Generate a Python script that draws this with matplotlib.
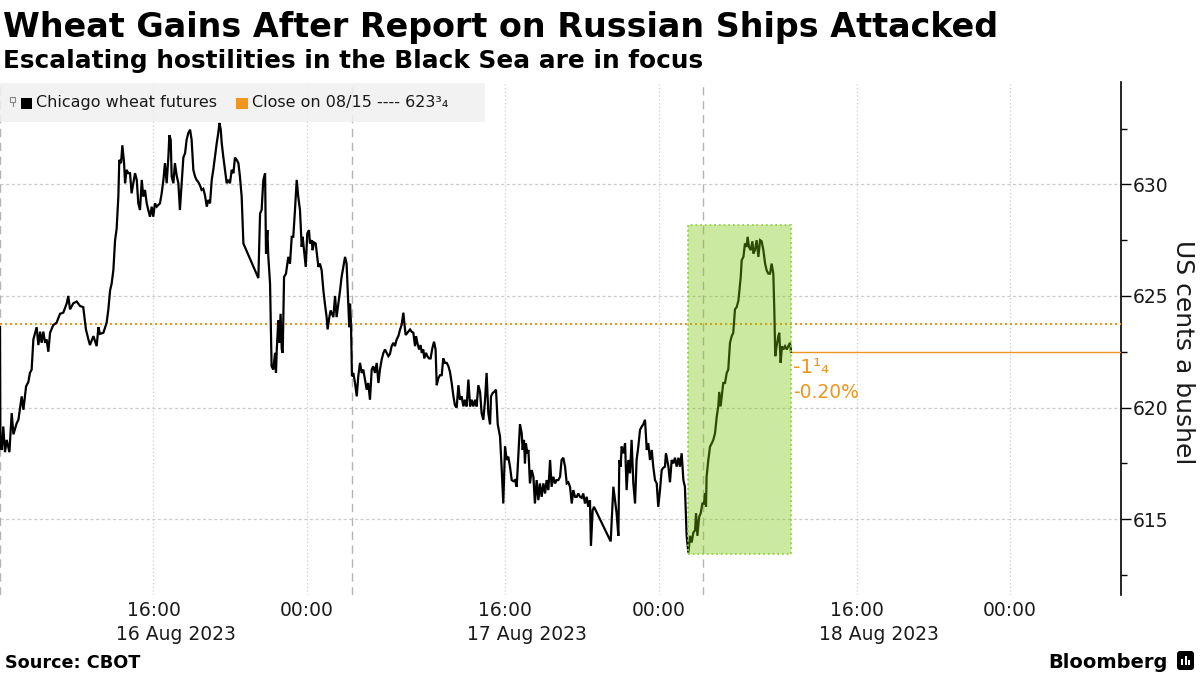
import matplotlib
matplotlib.use('Agg')
import matplotlib.pyplot as plt
from matplotlib.patches import Rectangle, FancyBboxPatch
from matplotlib.transforms import Affine2D, blended_transform_factory, offset_copy
from matplotlib.lines import Line2D
import pandas as pd

plt.rcParams['font.family'] = ['DejaVu Sans']

# ---------------- text ----------------
title = 'Wheat Gains After Report on Russian Ships Attacked'
subtitle = 'Escalating hostilities in the Black Sea are in focus'
series_name = 'Chicago wheat futures'
close_label = 'Close on 08/15 ---- 623³₄'
y_label = 'US cents a bushel'
source = 'Source: CBOT'
brand = 'Bloomberg'
change_text = '-1¹₄'
change_pct = '-0.20%'

# ---------------- values ----------------
prev_close = 623.75
last_close = 622.5

# trading sessions (HKT): 08:00 open -> 02:20 next day, gap compressed
session_opens = ['2023-08-16 08:00', '2023-08-17 08:00', '2023-08-18 08:00']
session_len_h = 18 + 20 / 60

tick_times = ['2023-08-16 16:00', '2023-08-17 00:00', '2023-08-17 16:00',
              '2023-08-18 00:00', '2023-08-18 16:00', '2023-08-19 00:00']
tick_labels = ['16:00', '00:00', '16:00', '00:00', '16:00', '00:00']
date_ticks = ['2023-08-16 16:00', '2023-08-17 16:00', '2023-08-18 16:00']
date_labels = ['16 Aug 2023', '17 Aug 2023', '18 Aug 2023']

y_major = [615, 620, 625, 630]
y_minor = [612.5, 617.5, 622.5, 627.5, 632.5]

# price series: x = trading hours since 16 Aug 08:00 (session gaps removed)
hours = [
    0.00, 0.02, 0.09, 0.17, 0.26, 0.35, 0.49, 0.61, 0.70, 0.87, 0.96,
    1.13, 1.22, 1.36, 1.48, 1.56, 1.65, 1.74, 1.83, 1.91,
    2.00, 2.09, 2.17, 2.26, 2.35, 2.43, 2.52, 2.61, 2.78, 2.95,
    3.13, 3.30, 3.48, 3.56, 3.65, 3.82,
    4.00, 4.17, 4.34, 4.48, 4.61, 4.69, 4.87,
    5.04, 5.13, 5.21, 5.39, 5.56, 5.65, 5.74, 5.82, 5.91,
    6.00, 6.08, 6.17, 6.22, 6.31, 6.38, 6.47, 6.52, 6.60, 6.69,
    6.78, 6.86, 7.04, 7.13, 7.21, 7.30, 7.39, 7.47, 7.56, 7.65, 7.73, 7.82, 7.91, 7.99,
    8.08, 8.17, 8.34, 8.43, 8.52, 8.60, 8.69, 8.78, 8.83, 8.90, 8.95,
    9.04, 9.12, 9.21, 9.30, 9.38, 9.47, 9.56, 9.65, 9.73, 9.82, 9.91, 9.99,
    10.08, 10.17, 10.25, 10.34, 10.43, 10.51, 10.60, 10.69, 10.78, 10.86, 10.95,
    11.04, 11.12, 11.21, 11.30, 11.38, 11.44, 11.51, 11.56, 11.64, 11.73, 11.82, 11.90, 11.99,
    12.08, 12.17, 12.25, 12.34, 12.43, 12.51, 12.60, 12.69,
    13.47, 13.56, 13.64, 13.73, 13.82, 13.87, 13.94, 13.99,
    14.08, 14.16, 14.25, 14.34, 14.39, 14.43, 14.51, 14.56, 14.63, 14.69, 14.74, 14.81, 14.91,
    15.03, 15.12, 15.21, 15.29, 15.38, 15.47, 15.55, 15.64, 15.73, 15.78, 15.85, 15.94,
    16.02, 16.11, 16.16, 16.25, 16.30, 16.37, 16.46, 16.60, 16.68, 16.77, 16.86, 16.94,
    17.03, 17.08, 17.17, 17.24, 17.31, 17.38, 17.47, 17.55, 17.64, 17.73, 17.81, 17.90, 17.99,
    18.07, 18.16, 18.21, 18.25, 18.30,
    18.35, 18.42, 18.51, 18.60, 18.68, 18.77, 18.86, 18.94,
    19.03, 19.12, 19.20, 19.29, 19.38, 19.46, 19.55, 19.64, 19.73, 19.81, 19.90, 19.99,
    20.07, 20.16, 20.25, 20.33, 20.42, 20.51, 20.59, 20.68, 20.77, 20.86, 20.94,
    21.03, 21.08, 21.15, 21.24, 21.29, 21.38, 21.46, 21.55, 21.64, 21.69, 21.76, 21.85, 21.93, 21.99,
    22.07, 22.12, 22.21, 22.28, 22.37, 22.45, 22.54, 22.63, 22.71, 22.77, 22.85, 22.94,
    23.03, 23.11, 23.20, 23.29, 23.38, 23.46, 23.55, 23.64, 23.72, 23.81, 23.90, 23.98,
    24.07, 24.16, 24.24, 24.33, 24.42, 24.51, 24.59, 24.68, 24.77, 24.85, 24.94,
    25.03, 25.11, 25.20, 25.29, 25.37, 25.46, 25.55, 25.60, 25.69, 25.76, 25.86, 25.95,
    26.07, 26.16, 26.24, 26.33, 26.42, 26.50, 26.59, 26.68, 26.76, 26.85, 26.94,
    27.02, 27.11, 27.20, 27.25, 27.32, 27.37, 27.42, 27.49, 27.55, 27.63, 27.72, 27.81, 27.89, 27.98,
    28.07, 28.15, 28.24, 28.33, 28.42, 28.50, 28.59, 28.68, 28.76, 28.85, 28.94,
    29.02, 29.11, 29.20, 29.28, 29.37, 29.46, 29.55, 29.63, 29.72, 29.81, 29.89, 29.98,
    30.07, 30.15, 30.24, 30.33, 30.41, 30.50, 30.59, 30.67, 30.76, 30.81, 30.90, 30.97,
    31.84, 31.98, 32.15, 32.24, 32.29, 32.36, 32.41, 32.50, 32.59, 32.67, 32.76, 32.85, 32.93,
    33.02, 33.11, 33.19, 33.28, 33.37, 33.46, 33.54, 33.63, 33.72, 33.80, 33.89, 33.98,
    34.06, 34.15, 34.24, 34.32, 34.41, 34.50, 34.58, 34.67, 34.72, 34.85, 34.93,
    35.02, 35.11, 35.19, 35.28, 35.37, 35.45, 35.54, 35.63, 35.71, 35.80, 35.89, 35.98,
    36.06, 36.15, 36.24, 36.29, 36.36, 36.45, 36.53, 36.62,
    36.70, 36.76, 36.81, 36.84, 36.93, 37.02, 37.11, 37.19, 37.28, 37.37, 37.45, 37.50, 37.57, 37.63,
    37.71, 37.80, 37.89, 37.97, 38.06, 38.15, 38.23, 38.32, 38.41, 38.50, 38.55, 38.62, 38.67,
    38.76, 38.84, 38.93, 38.98, 39.05, 39.14, 39.23, 39.28, 39.36, 39.45, 39.54, 39.63, 39.71,
    39.80, 39.89, 39.97, 40.06, 40.15, 40.23, 40.32, 40.37, 40.42, 40.49, 40.58, 40.63, 40.70,
    40.77, 40.84, 40.93, 41.02, 41.10, 41.19, 41.24,
]

price = [
    623.6, 618.4, 618.1, 619.15, 618.0, 618.55, 618.0, 619.75, 618.8, 619.3, 619.45,
    620.5, 619.9, 620.95, 621.15, 621.55, 621.7, 623.05, 623.35, 623.6,
    622.8, 623.4, 622.9, 623.4, 622.9, 623.05, 622.5, 623.35, 623.7, 623.8,
    624.2, 624.25, 624.67, 625.0, 624.4, 624.67,
    624.75, 624.55, 624.5, 623.5, 623.05, 622.8, 623.2,
    622.75, 623.6, 623.3, 623.35, 623.8, 624.4, 625.25, 625.55, 626.15,
    627.5, 628.0, 629.45, 631.1, 630.95, 631.75, 630.95, 630.05, 630.65, 630.5,
    630.5, 629.6, 630.5, 630.2, 629.15, 628.85, 630.2, 629.45, 629.75, 629.15, 628.85, 628.55, 629.0, 628.55,
    629.15, 629.0, 629.15, 629.6, 630.2, 630.95, 630.05, 631.25, 632.2, 632.0, 630.35,
    630.05, 630.95, 630.4, 630.05, 628.85, 630.05, 631.2, 631.4, 632.0, 632.3, 632.45, 632.0,
    630.65, 630.35, 630.2, 630.1, 629.95, 629.75, 629.8, 629.5, 629.0, 629.3, 629.15,
    630.2, 630.65, 631.25, 631.85, 632.3, 632.75, 632.45, 631.85, 631.25, 630.65, 630.05, 630.2, 630.05,
    630.65, 630.5, 631.2, 631.1, 630.95, 630.35, 629.45, 627.35,
    625.8, 628.7, 628.85, 630.2, 630.5, 626.9, 627.95, 626.75,
    625.55, 621.85, 621.7, 622.45, 621.55, 622.6, 623.9, 622.9, 624.2, 622.6, 622.45, 625.85, 626.0,
    626.75, 626.45, 627.65, 627.65, 628.85, 630.2, 629.45, 628.85, 627.2, 627.65, 627.05, 626.3,
    627.8, 627.95, 627.35, 627.5, 627.05, 627.4, 627.35, 626.3, 626.45, 626.15, 625.25, 624.65,
    624.05, 623.5, 624.05, 624.35, 624.2, 624.05, 625.0, 624.05, 624.65, 625.25, 625.85, 626.3, 626.75,
    626.45, 624.65, 623.6, 624.65, 623.75,
    621.4, 621.55, 621.1, 620.5, 621.4, 622.0, 621.55, 621.7,
    621.25, 620.8, 621.1, 620.35, 621.7, 621.85, 621.55, 622.0, 621.1, 621.7, 622.15, 622.45,
    622.6, 622.45, 622.3, 622.4, 622.75, 622.9, 622.75, 623.05, 623.2, 623.5, 623.7,
    624.25, 623.8, 623.25, 623.35, 623.4, 623.5, 623.4, 623.35, 622.75, 623.2, 622.9, 622.6, 622.8, 622.45,
    622.6, 622.2, 622.45, 622.3, 622.2, 622.2, 622.65, 622.95, 622.6, 621.0, 621.3, 621.45,
    621.45, 622.2, 622.0, 622.0, 621.85, 621.6, 621.1, 620.5, 620.1, 620.0, 621.0, 620.35,
    620.5, 620.05, 620.35, 620.05, 621.25, 620.05, 620.35, 620.05, 620.35, 620.05, 621.0,
    620.7, 619.75, 619.45, 620.35, 621.55, 619.75, 619.25, 620.5, 620.65, 620.7, 620.8, 619.25,
    618.7, 617.2, 615.7, 618.25, 617.65, 617.8, 617.35, 616.75, 616.7, 616.75, 616.45,
    617.8, 619.25, 618.85, 618.1, 618.55, 617.5, 618.4, 617.95, 618.1, 616.6, 617.2, 616.9, 615.7, 616.75,
    615.85, 616.6, 616.0, 616.6, 616.15, 616.75, 616.3, 617.65, 616.45, 616.9, 616.6,
    616.75, 616.75, 616.9, 617.65, 617.75, 617.35, 616.6, 616.65, 616.45, 615.7, 616.3, 616.0,
    616.0, 616.15, 616.0, 615.95, 616.15, 615.7, 616.0, 615.55, 615.85, 613.8, 615.4, 615.55,
    614.0, 616.45, 615.25, 614.25, 617.65, 617.35, 618.25, 617.95, 618.4, 616.3, 617.65, 617.05, 618.55,
    616.6, 615.7, 617.65, 618.25, 619.0, 619.15, 619.25, 619.45, 618.1, 618.4, 617.65, 618.1,
    617.35, 616.75, 616.6, 615.55, 616.3, 617.2, 617.3, 617.35, 617.95, 617.35, 616.65,
    617.65, 617.5, 617.75, 617.35, 617.75, 617.35, 617.95, 616.75, 616.45, 614.25, 613.5, 614.25,
    613.95, 614.4, 614.5, 615.25, 614.25, 615.1, 615.25, 615.7,
    615.7, 616.15, 615.55, 616.9, 617.65, 618.25, 618.4, 618.55, 618.85, 619.6, 620.05, 620.7, 620.05, 620.5,
    621.1, 621.1, 621.55, 621.7, 622.9, 623.2, 623.35, 624.4, 624.5, 624.8, 625.25, 625.85, 626.6,
    626.75, 627.35, 627.2, 627.65, 627.2, 627.05, 627.45, 626.9, 627.05, 627.5, 626.75, 627.5, 627.45,
    627.05, 626.45, 626.15, 626.0, 626.0, 626.45, 626.0, 624.4, 622.3, 622.75, 623.2, 623.35, 622.0,
    622.75, 622.6, 622.75, 622.6, 622.75, 622.9, 622.5,
]

# highlighted period (report on Russian ships)
highlight_start, highlight_end = 35.87, 41.24
highlight_low, highlight_high = 613.45, 628.2

# ---------------- helpers ----------------
def trading_hours(ts):
    ts = pd.Timestamp(ts)
    opens = [pd.Timestamp(o) for o in session_opens]
    idx = max(i for i, o in enumerate(opens) if o <= ts)
    return idx * session_len_h + (ts - opens[idx]).total_seconds() / 3600.0

ORANGE = '#f0961e'
GREEN = '#7ac70c'
TXT = '#1a1a1a'

W, H = 1200, 675
fig = plt.figure(figsize=(W / 100, H / 100), dpi=100)
px = Affine2D().scale(1 / W, -1 / H).translate(0, 1) + fig.transFigure

ax_left, ax_right, ax_top, ax_bottom = 0, 1120.7, 81.7, 595
ax = fig.add_axes([ax_left / W, 1 - ax_bottom / H,
                   (ax_right - ax_left) / W, (ax_bottom - ax_top) / H])

# price line
ax.plot(hours, price, color='black', lw=1.6, zorder=4, solid_joinstyle='miter')

# previous close dotted line and last-close line
ax.axhline(prev_close, color=ORANGE, lw=1.5, ls=(0, (1, 1.4)), zorder=3)
ax.hlines(last_close, hours[-1], 60, color=ORANGE, lw=1.0, zorder=3)

# highlight box
ax.add_patch(Rectangle((highlight_start, highlight_low), highlight_end - highlight_start,
                       highlight_high - highlight_low, facecolor=GREEN, alpha=0.38,
                       edgecolor='none', zorder=5))
ax.add_patch(Rectangle((highlight_start, highlight_low), highlight_end - highlight_start,
                       highlight_high - highlight_low, facecolor='none',
                       edgecolor='#8fd13a', lw=1.3, ls=(0, (1, 1.6)), zorder=6))

# session boundaries
for i in range(len(session_opens)):
    ax.axvline(i * session_len_h, color='#b4b4b4', lw=1.0, ls=(0, (6, 4)), zorder=2)

# axes limits
ax.set_xlim(0, (ax_right - ax_left) / 19.18)
ax.set_ylim(611.6, 634.6)

# x ticks (time) + date labels beneath
xt = [trading_hours(t) for t in tick_times]
ax.set_xticks(xt)
ax.set_xticklabels(tick_labels, fontsize=13.5, color=TXT)
ax.tick_params(axis='x', length=0, pad=4)
for xv in xt:
    ax.axvline(xv, color='#cfcfcf', lw=0.9, ls=(0, (1, 2)), zorder=1)

date_trans = offset_copy(blended_transform_factory(ax.transData, ax.transAxes),
                         fig=fig, x=22, y=-39, units='dots')
for t, lab in zip(date_ticks, date_labels):
    ax.text(trading_hours(t), 0, lab, transform=date_trans, ha='center', va='center',
            fontsize=13.5, color=TXT, clip_on=False)

# y axis on right
ax.yaxis.tick_right()
ax.set_yticks(y_major)
ax.set_yticks(y_minor, minor=True)
ax.set_yticklabels([str(v) for v in y_major], fontsize=13.5, color=TXT)
ax.tick_params(axis='y', which='major', length=7.5, width=1.0, pad=1, direction='out')
ax.tick_params(axis='y', which='minor', length=4, width=1.0, direction='out')
for yv in y_major:
    ax.axhline(yv, color='#cccccc', lw=0.9, ls=(0, (2.5, 2)), zorder=1)

ax.set_ylabel(y_label, fontsize=18, color=TXT)
ax.yaxis.set_label_position('right')
ax.yaxis.label.set(rotation=270, va='center', ha='center')
ax.yaxis.set_label_coords((1183 - ax_left) / (ax_right - ax_left),
                          1 - (352 - ax_top) / (ax_bottom - ax_top))

for s in ['top', 'left', 'bottom']:
    ax.spines[s].set_visible(False)
ax.spines['right'].set_linewidth(1.2)
ax.set_facecolor('none')

# change annotations
ax.annotate(change_text, xy=(hours[-1], last_close), xytext=(2, -16),
            textcoords='offset pixels', ha='left', va='center',
            fontsize=14.5, color=ORANGE, zorder=7)
ax.annotate(change_pct, xy=(hours[-1], last_close), xytext=(2, -41),
            textcoords='offset pixels', ha='left', va='center',
            fontsize=13.5, color=ORANGE, zorder=7)

# legend (manual, Bloomberg style)
fig.patches.append(Rectangle((0, 83), 485, 39, transform=px, facecolor='#f0f0f0',
                             alpha=0.85, edgecolor='none', zorder=2))
fig.patches.append(Rectangle((10, 97), 5, 5, transform=px, facecolor='none',
                             edgecolor='#888888', lw=0.8, zorder=3))
fig.lines.append(Line2D([12.5, 12.5], [102, 106], transform=px, color='#888888', lw=0.8, zorder=3))
fig.patches.append(Rectangle((20.5, 97.5), 11, 11, transform=px, facecolor='black',
                             edgecolor='none', zorder=3))
fig.text(36, 103, series_name, transform=px, fontsize=11.5, color=TXT,
         va='center', ha='left', zorder=3)
fig.patches.append(Rectangle((236, 97.5), 11.5, 11, transform=px, facecolor=ORANGE,
                             edgecolor='none', zorder=3))
fig.text(252, 103, close_label, transform=px, fontsize=11.5, color=TXT,
         va='center', ha='left', zorder=3)

# titles
fig.text(3, 37, title, transform=px, fontsize=24, fontweight='bold',
         color='black', va='baseline', ha='left')
fig.text(3, 68, subtitle, transform=px, fontsize=17.8, fontweight='bold',
         color='black', va='baseline', ha='left')

# footer
fig.text(5, 668, source, transform=px, fontsize=12.7, fontweight='bold',
         color='black', va='baseline', ha='left')
fig.text(1168, 668, brand, transform=px, fontsize=14, fontweight='bold',
         color='black', va='baseline', ha='right')
fig.patches.append(FancyBboxPatch((1177, 651), 17, 19, transform=px,
                                  boxstyle='round,pad=0,rounding_size=3',
                                  facecolor='black', edgecolor='none'))
for bx, bh in [(1181, 6), (1184.5, 9), (1188, 5)]:
    fig.patches.append(Rectangle((bx, 665 - bh), 2, bh, transform=px,
                                 facecolor='white', edgecolor='none'))

fig.savefig('out.png', dpi=100)
